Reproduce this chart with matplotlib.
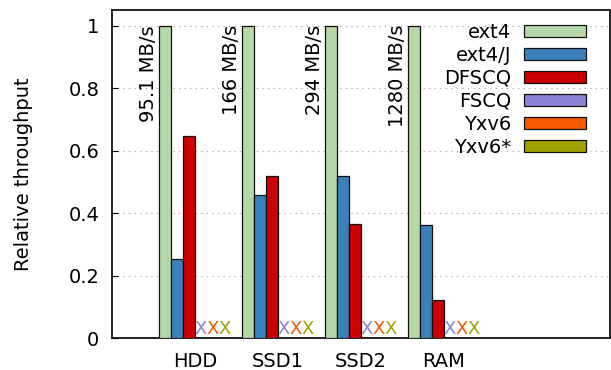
import matplotlib
matplotlib.use("Agg")
import matplotlib.pyplot as plt
import numpy as np

# -- Data -------------------------------------------------------------------
devices = ["HDD", "SSD1", "SSD2", "RAM"]
base_speed = ["95.1 MB/s", "166 MB/s", "294 MB/s", "1280 MB/s"]
systems = ["ext4", "ext4/J", "DFSCQ", "FSCQ", "Yxv6", "Yxv6*"]
ext4 = [1.0, 1.0, 1.0, 1.0]
ext4_j = [0.254, 0.459, 0.519, 0.362]
dfscq = [0.647, 0.519, 0.365, 0.122]
fscq = [np.nan, np.nan, np.nan, np.nan]
yxv6 = [np.nan, np.nan, np.nan, np.nan]
yxv6_star = [np.nan, np.nan, np.nan, np.nan]
series = [ext4, ext4_j, dfscq, fscq, yxv6, yxv6_star]
colors = ["#b5d8a8", "#3b80bb", "#cc0000", "#8b83d6", "#f55a00", "#a0a000"]

plt.rcParams["font.family"] = "DejaVu Sans"
FS = 14

fig = plt.figure(figsize=(6.11, 3.70), dpi=100)
ax = fig.add_axes([112 / 611, 32 / 370, 497.5 / 611, 328 / 370])

x = np.arange(len(devices))
width = 1 / 7
offsets = (np.arange(len(systems)) - 2.5) * width

for vals, name, col, off in zip(series, systems, colors, offsets):
    vals = np.asarray(vals, dtype=float)
    ax.bar(x + off, np.nan_to_num(vals), width, color=col, edgecolor="#111111",
           linewidth=0.9, label=name, zorder=3)
    # missing results marked with a coloured X
    for xi, v in zip(x, vals):
        if np.isnan(v):
            ax.text(xi + off, 0.0, "X", color=col, ha="center", va="bottom",
                    fontsize=13, zorder=4)

# absolute ext4 throughput next to the ext4 bar
for xi, lab in zip(x, base_speed):
    ax.text(xi + offsets[0] - width / 2 - 0.015, 1.003, lab, rotation=90,
            ha="right", va="top", fontsize=FS, zorder=4)

ax.set_xlim(-1, 5)
ax.set_ylim(0, 1.051)
ax.set_yticks([0, 0.2, 0.4, 0.6, 0.8, 1.0])
ax.set_yticklabels(["0", "0.2", "0.4", "0.6", "0.8", "1"])
ax.set_xticks(x)
ax.set_xticklabels(devices)
ax.tick_params(axis="x", length=0, pad=10, labelsize=FS)
ax.tick_params(axis="y", direction="in", length=4, pad=9, labelsize=FS)
ax.grid(axis="y", linestyle=(0, (1, 4)), color="#999999", linewidth=0.8, zorder=0)
ax.set_ylabel("Relative throughput", fontsize=FS, labelpad=26)
for sp in ax.spines.values():
    sp.set_linewidth(1.2)

leg = ax.legend(loc="upper right", frameon=False, markerfirst=False, fontsize=FS,
                handlelength=3.2, handleheight=0.6, labelspacing=0.2,
                handletextpad=0.65, borderaxespad=0.0, borderpad=0.0,
                bbox_to_anchor=(0.953, 0.96))

fig.savefig("out.png", dpi=100)
